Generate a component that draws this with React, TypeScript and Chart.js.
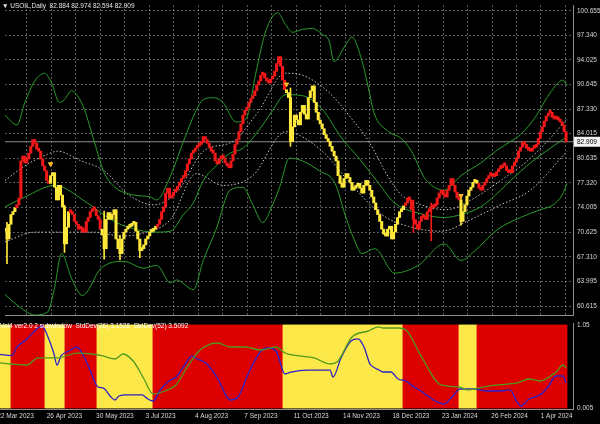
import { useEffect, useRef } from 'react';
import { Chart, registerables } from 'chart.js';
Chart.register(...registerables);

// ---- price data (daily closes, bar index = position) ----
const closes = [
  70.79, 69.73, 71.72, 73.04, 73.43, 73.96, 74.36, 75.28, 80.31, 80.97,
  80.04, 80.57, 81.36, 82.29, 83.21, 82.69, 81.89, 81.63, 80.57, 79.65,
  78.98, 77.66, 77.27, 78.32, 78.72, 76.74, 75.02, 77.0, 75.68, 74.09,
  69.07, 71.32, 73.43, 73.3, 73.04, 72.11, 71.72, 71.06, 71.32, 70.66,
  70.66, 72.11, 72.64, 73.43, 73.7, 73.7, 72.9, 72.38, 71.06, 70.26,
  68.41, 72.38, 73.3, 72.38, 73.04, 73.7, 69.73, 68.41, 67.75, 69.73,
  70.66, 71.06, 71.32, 71.45, 71.72, 71.98, 70.79, 69.73, 68.15, 68.41,
  68.94, 69.73, 70.13, 70.66, 70.79, 71.06, 71.32, 71.72, 72.38, 73.43,
  74.09, 75.95, 76.61, 75.28, 75.55, 76.08, 76.34, 76.87, 77.4, 77.93,
  78.19, 78.98, 79.91, 80.57, 81.36, 81.63, 82.02, 82.29, 82.55, 82.82,
  83.61, 83.21, 82.69, 82.16, 81.63, 81.36, 80.31, 79.91, 80.57, 80.97,
  80.7, 80.04, 79.65, 79.38, 80.31, 81.23, 82.55, 83.21, 84.27, 85.33,
  86.52, 87.18, 87.57, 88.24, 88.76, 89.16, 89.82, 90.61, 91.14, 91.93,
  92.2, 91.54, 91.14, 90.88, 91.41, 91.8, 92.46, 93.52, 94.45, 93.12,
  91.27, 89.95, 89.56, 88.9, 82.95, 84.93, 86.52, 85.86, 85.2, 86.91,
  87.84, 86.65, 85.99, 88.9, 89.82, 90.48, 88.24, 86.91, 85.86, 85.33,
  84.67, 83.87, 83.35, 82.95, 82.29, 81.63, 80.97, 80.31, 78.32, 77.27,
  76.74, 77.93, 78.59, 78.06, 77.4, 76.34, 76.61, 76.87, 77.27, 76.61,
  75.95, 77.0, 77.66, 77.0, 76.34, 75.42, 74.62, 73.7, 73.04, 72.11,
  71.06, 70.39, 70.13, 71.06, 71.45, 69.73, 70.66, 71.72, 72.64, 73.43,
  73.7, 74.23, 74.62, 75.28, 75.02, 73.7, 72.38, 71.72, 71.06, 72.11,
  72.77, 72.64, 72.38, 73.43, 73.7, 73.96, 74.09, 74.36, 75.28, 75.95,
  76.34, 75.68, 75.42, 76.34, 77.0, 77.93, 77.0, 76.08, 75.28, 75.02,
  72.11, 73.43, 74.36, 75.55, 76.34, 76.74, 77.4, 77.66, 77.27, 76.61,
  76.34, 77.0, 77.4, 77.93, 78.32, 78.59, 78.19, 78.32, 78.85, 79.25,
  79.38, 79.78, 79.65, 78.98, 78.72, 78.72, 79.65, 80.18, 80.7, 81.63,
  82.16, 82.82, 82.55, 82.02, 81.76, 81.63, 82.02, 82.16, 82.55, 83.35,
  84.27, 84.93, 85.72, 86.38, 86.78, 86.91, 86.25, 85.99, 86.12, 85.86,
  85.59, 85.2, 84.27, 82.909,
];

// visible long wicks: bar index, low, high
const wickIdx = [1, 30, 50, 58, 68, 144, 206, 215, 230];
const wickLow = [66.4, 67.9, 67.0, 66.9, 67.2, 82.3, 70.6, 69.5, 71.6];
const wickHigh = [72.0, 74.3, 73.5, 70.2, 69.6, 90.2, 75.0, 74.6, 75.4];

// regime (candle / histogram colour): start bar of each regime and its kind
const regimeStarts = [0, 6, 23, 33, 49, 77, 142, 202, 230, 239];
const regimeKinds = ['Y', 'R', 'Y', 'R', 'Y', 'R', 'Y', 'R', 'Y', 'R'];

// signal arrows
const arrowIdx = [23, 142, 230];
const arrowPrice = [79.9, 90.7, 75.6];

// Bollinger-style envelope lines (bar index, price)
const upX = [0, 6, 10, 15, 20, 23.5, 27.5, 30, 33.5, 36.5, 40, 45, 50, 53.5, 57.5, 65, 73.5, 76.5, 82.5, 90, 96, 100, 105, 110, 116.5, 121.5, 126.5, 131.5, 137.5, 141.5, 145, 150, 155, 160, 163.5, 166, 171.5, 175, 180, 183.5, 186, 193.5, 200, 205, 211.5, 217.5, 221.5, 230, 240, 247.5, 255, 260, 267.5, 275, 281.5, 283.5];
const upV = [86.51, 85.19, 88.23, 91.14, 92.2, 90.88, 88.23, 88.63, 89.82, 89.16, 87.31, 82.95, 78.72, 77.27, 76.34, 75.68, 75.41, 75.02, 77.66, 82.95, 86.91, 88.63, 88.89, 88.23, 85.59, 85.99, 92.2, 97.88, 100.39, 98.8, 97.75, 98.14, 98.28, 97.48, 96.56, 93.78, 95.9, 97.09, 93.92, 89.95, 86.91, 84.27, 83.34, 81.63, 78.06, 76.6, 76.34, 78.32, 80.04, 81.63, 82.95, 83.87, 86.25, 89.55, 91.27, 90.48];

const midX = [0, 10, 25, 41.5, 55, 70, 76.5, 83.5, 90, 95, 100, 106.5, 113.5, 120, 130, 135, 141.5, 150, 160, 170, 178.5, 188.5, 196.5, 211.5, 221.5, 230, 240, 250, 255, 265, 275, 283.5];
const midV = [74.09, 75.41, 77.0, 74.62, 72.11, 70.79, 70.66, 70.79, 73.04, 74.62, 77.66, 79.64, 81.36, 82.02, 85.19, 87.17, 89.29, 89.16, 87.31, 83.34, 80.7, 77.26, 74.62, 73.04, 72.64, 73.04, 74.09, 76.34, 77.66, 80.04, 82.02, 83.61];

const lowX = [0, 7.5, 15, 21.5, 25, 28.5, 33.5, 39, 48.5, 60, 70, 76.5, 83.5, 86.5, 95, 100, 106.5, 113.5, 120, 125, 130, 135, 138.5, 143.5, 150, 158.5, 166.5, 171.5, 176, 180, 186.5, 196.5, 208.5, 221.5, 230, 236.5, 248.5, 260, 270, 276.5, 281, 283.5];
const lowV = [62.2, 60.48, 59.42, 59.82, 63.13, 67.75, 64.45, 62.07, 65.77, 66.69, 65.77, 66.16, 63.78, 64.18, 62.86, 66.82, 71.05, 76.34, 76.74, 74.36, 71.98, 74.36, 76.74, 80.7, 80.31, 78.98, 77.26, 73.04, 69.73, 67.75, 68.41, 65.11, 66.16, 69.07, 66.82, 68.01, 71.05, 72.64, 73.7, 74.36, 75.68, 77.26];

const dotUpX = [0, 10, 21.5, 26.5, 38.5, 50, 62.5, 75, 87.5, 100, 115, 127.5, 141.5, 150, 163.5, 175, 183.5, 193.5, 200, 210, 222.5, 235, 250, 263.5, 273.5, 283.5];
const dotUpV = [77.66, 79.64, 81.23, 81.63, 80.31, 78.98, 75.68, 74.36, 76.34, 81.63, 82.95, 86.91, 92.2, 91.93, 89.56, 85.99, 82.95, 78.06, 75.68, 74.36, 73.7, 75.02, 77.66, 80.31, 82.95, 85.99];

const dotLoX = [0, 15, 45, 58.5, 71.5, 83.5, 96.5, 110, 125, 141.5, 160, 175, 190, 205, 220, 235, 250, 265, 283.5];
const dotLoV = [69.34, 70.66, 70.66, 70.13, 70.66, 72.38, 78.59, 77.0, 78.32, 84.27, 81.63, 77.0, 73.04, 71.32, 70.79, 72.38, 74.36, 76.34, 81.63];

const bid = 82.909;
const priceTicks = [100.655, 97.34, 94.025, 90.645, 87.33, 84.015, 80.635, 77.32, 74.005, 70.625, 67.31, 63.995, 60.615];

// sub-window lines (bar index, value)
const blueX = [0, 5.75, 8.5, 13.5, 19, 21, 24, 27, 28.5, 30.5, 34.5, 38.5, 41, 45, 49, 51.5, 55.5, 57.5, 59.5, 63, 71, 74, 76.5, 80.5, 84.5, 88, 92, 96, 97.5, 103.5, 109, 115, 119, 124.5, 130.5, 134, 138, 142.5, 145.5, 153.5, 165, 166.5, 170.5, 175.5, 179, 182, 185, 187.5, 189.5, 191.5, 195.5, 199, 203, 207, 210.5, 214.5, 218.5, 222, 226, 230, 237.5, 243.5, 249, 255, 258.5, 260.5, 264.5, 270, 274, 278, 281.5, 283];
const blueV = [0.679, 0.665, 0.773, 0.874, 1.012, 1.037, 0.899, 0.685, 0.546, 0.66, 0.723, 0.773, 0.697, 0.483, 0.269, 0.257, 0.144, 0.106, 0.156, 0.169, 0.169, 0.118, 0.093, 0.244, 0.345, 0.395, 0.534, 0.66, 0.635, 0.559, 0.37, 0.106, 0.144, 0.458, 0.723, 0.76, 0.723, 0.433, 0.458, 0.483, 0.483, 0.395, 0.635, 0.849, 0.874, 0.773, 0.559, 0.509, 0.483, 0.458, 0.458, 0.37, 0.345, 0.269, 0.219, 0.144, 0.081, 0.055, 0.144, 0.244, 0.244, 0.219, 0.219, 0.232, 0.081, 0.03, 0.118, 0.169, 0.269, 0.408, 0.408, 0.32];
const greenX = [0, 5.75, 13.5, 19, 28.5, 38.5, 46, 51.5, 57.5, 61.5, 67, 72, 76.5, 82.5, 88, 94, 99.5, 105.5, 109, 115, 122.5, 130.5, 138, 142.5, 149.5, 157, 165, 168.5, 176, 184, 189.5, 191.5, 199, 203, 210.5, 220.5, 230, 233.5, 241.5, 249, 258.5, 264.5, 270, 278, 281.5, 283];
const greenV = [0.572, 0.559, 0.546, 0.635, 0.635, 0.697, 0.685, 0.66, 0.622, 0.685, 0.584, 0.37, 0.181, 0.219, 0.295, 0.534, 0.723, 0.811, 0.823, 0.773, 0.773, 0.735, 0.773, 0.697, 0.66, 0.635, 0.559, 0.584, 0.899, 0.974, 1.025, 1.012, 1.012, 0.987, 0.66, 0.295, 0.269, 0.232, 0.269, 0.295, 0.32, 0.37, 0.345, 0.458, 0.546, 0.509];

const dateLabels = ['22 Mar 2023', '26 Apr 2023', '30 May 2023', '3 Jul 2023', '4 Aug 2023', '7 Sep 2023', '11 Oct 2023', '14 Nov 2023', '18 Dec 2023', '23 Jan 2024', '26 Feb 2024', '1 Apr 2024'];
const dateIdx = [-1.35, 23.35, 48.05, 72.75, 97.45, 122.15, 146.85, 171.55, 196.25, 220.95, 245.65, 270.35];

const CANDLE_RED = '#f01818';
const CANDLE_YELLOW = '#ffe83c';
const BAND_RED = '#dc0000';
const BAND_YELLOW = '#fde84a';
const BB_GREEN = '#2a9c2a';
const DOT = '#c4c4c4';

function regimeAt(i: number) {
  let k = 0;
  for (let j = 0; j < regimeStarts.length; j++) if (i >= regimeStarts[j]) k = j;
  return regimeKinds[k];
}
function pts(xs: number[], vs: number[]) {
  return xs.map((x, k) => ({ x, y: vs[k] }));
}

export default function App() {
  const mainRef = useRef<HTMLCanvasElement>(null);
  const subRef = useRef<HTMLCanvasElement>(null);

  useEffect(() => {
    document.body.style.margin = '0';
    document.body.style.background = '#000';
    const idx = closes.map((_, i) => i);
    const opens = closes.map((c, i) => (i === 0 ? c : closes[i - 1]));
    const kinds = idx.map(regimeAt);
    const colorOf = (i: number) => (kinds[i] === 'R' ? CANDLE_RED : CANDLE_YELLOW);
    const candleColors = idx.map(colorOf);
    const bandColors = kinds.map((k) => (k === 'R' ? BAND_RED : BAND_YELLOW));
    const font = { family: 'Liberation Sans', size: 6.5 };
    const gridColor = 'rgba(150,150,150,0.6)';
    const xMax = 286.5;
    const gridIdx = Array.from({ length: 23 }, (_, k) => 11 + 12.35 * k);

    const lineDs = (data: any[], color: string, dash: number[] = []) => ({
      type: 'line' as const,
      data,
      borderColor: color,
      borderWidth: 1,
      borderDash: dash,
      pointRadius: 0,
      cubicInterpolationMode: 'monotone' as const,
      order: 5,
    });

    const priceTag = {
      id: 'priceTag',
      afterDraw(chart: any) {
        const { ctx, scales } = chart;
        const py = scales.y.getPixelForValue(bid);
        ctx.save();
        ctx.fillStyle = '#f2f2f2';
        ctx.fillRect(574, py - 5, 26, 10);
        ctx.fillStyle = '#000';
        ctx.font = '6.5px "Liberation Sans"';
        ctx.textBaseline = 'middle';
        ctx.fillText(bid.toFixed(3), 577, py + 0.5);
        ctx.restore();
      },
    };

    const main = new Chart(mainRef.current!, {
      type: 'bar',
      data: {
        datasets: [
          {
            type: 'bar',
            data: idx.map((i) => ({ x: i, y: [opens[i], closes[i]] })) as any,
            backgroundColor: candleColors,
            borderWidth: 0,
            barThickness: 2.4,
            minBarLength: 3,
            order: 0,
          } as any,
          {
            type: 'bar',
            data: wickIdx.map((x, k) => ({ x, y: [wickLow[k], wickHigh[k]] })) as any,
            backgroundColor: wickIdx.map(colorOf),
            borderWidth: 0,
            barThickness: 1,
            grouped: false,
            order: 1,
          } as any,
          lineDs(pts(upX, upV), BB_GREEN),
          lineDs(pts(midX, midV), BB_GREEN),
          lineDs(pts(lowX, lowV), BB_GREEN),
          lineDs(pts(dotUpX, dotUpV), DOT, [1.5, 2]),
          lineDs(pts(dotLoX, dotLoV), DOT, [1.5, 2]),
          { ...lineDs([{ x: 0, y: bid }, { x: xMax, y: bid }], '#8e8e8e'), order: 6 },
          {
            type: 'line',
            data: arrowIdx.map((x, k) => ({ x, y: arrowPrice[k] })),
            showLine: false,
            pointStyle: 'triangle',
            rotation: 180,
            pointRadius: 2.5,
            backgroundColor: '#ffb828',
            borderColor: '#ffb828',
            order: -1,
          } as any,
        ],
      },
      options: {
        responsive: false,
        animation: false,
        events: [],
        layout: { padding: { top: 0, left: 0, right: 0, bottom: 2 } },
        plugins: { legend: { display: false }, tooltip: { enabled: false } },
        scales: {
          x: {
            type: 'linear',
            min: 0,
            max: xMax,
            offset: false,
            afterBuildTicks: (s: any) => {
              s.ticks = gridIdx.map((v) => ({ value: v }));
            },
            ticks: { display: false },
            grid: { color: gridColor, drawTicks: false, offset: false },
            border: { display: true, color: '#909090', width: 1, dash: [2, 2] },
          },
          y: {
            type: 'linear',
            position: 'right',
            min: 59.426,
            max: 101.448,
            afterBuildTicks: (s: any) => {
              s.ticks = priceTicks.map((v) => ({ value: v }));
            },
            afterFit: (s: any) => {
              s.width = 27;
              s.paddingTop = 0;
              s.paddingBottom = 0;
            },
            ticks: { color: '#d8d8d8', font, padding: 4, callback: (v: any) => Number(v).toFixed(3) },
            grid: { color: gridColor, drawTicks: false },
            border: { display: true, color: '#909090', dash: [2, 2] },
          },
        },
      } as any,
      plugins: [priceTag],
    });

    const sub = new Chart(subRef.current!, {
      type: 'bar',
      data: {
        datasets: [
          {
            type: 'bar',
            data: idx.map((i) => ({ x: i, y: [0.005, 1.05] })) as any,
            backgroundColor: bandColors,
            borderWidth: 0,
            barThickness: 2.2,
            order: 10,
          } as any,
          { ...lineDs(pts(blueX, blueV), '#2a22c8'), borderWidth: 1.3, order: 1 },
          { ...lineDs(pts(greenX, greenV), '#4f9a1c'), borderWidth: 1.3, order: 0 },
        ],
      },
      options: {
        responsive: false,
        animation: false,
        events: [],
        layout: { padding: { top: 3, left: 0, right: 0, bottom: 0 } },
        plugins: { legend: { display: false }, tooltip: { enabled: false } },
        scales: {
          x: {
            type: 'linear',
            min: 0,
            max: xMax,
            offset: false,
            afterBuildTicks: (s: any) => {
              s.ticks = dateIdx.map((v) => ({ value: v }));
            },
            afterFit: (s: any) => {
              s.height = 15;
              s.paddingLeft = 0;
              s.paddingRight = 0;
            },
            ticks: {
              autoSkip: false,
              maxRotation: 0,
              minRotation: 0,
              align: 'start',
              color: '#d8d8d8',
              font,
              padding: 3,
              callback: (_v: any, i: number) => dateLabels[i],
            },
            grid: { display: false, drawTicks: false },
            border: { display: true, color: '#909090' },
          },
          y: {
            type: 'linear',
            position: 'right',
            min: -0.0076,
            max: 1.075,
            afterBuildTicks: (s: any) => {
              s.ticks = [{ value: 0.005 }, { value: 1.05 }];
            },
            afterFit: (s: any) => {
              s.width = 27;
              s.paddingTop = 0;
              s.paddingBottom = 0;
            },
            ticks: { color: '#d8d8d8', font, padding: 4, callback: (_v: any, i: number) => (i === 0 ? '0.005' : '1.05') },
            grid: { display: false, drawTicks: false },
            border: { display: true, color: '#909090' },
          },
        },
      } as any,
    });

    return () => {
      main.destroy();
      sub.destroy();
    };
  }, []);

  const txt = { position: 'absolute' as const, fontFamily: '"Liberation Sans", sans-serif', fontSize: 6.5, whiteSpace: 'pre' as const, lineHeight: '8px' };
  return (
    <div style={{ position: 'relative', width: 600, height: 424, background: '#000', overflow: 'hidden' }}>
      <canvas ref={mainRef} width={600} height={320} style={{ position: 'absolute', left: 0, top: 0 }} />
      <canvas ref={subRef} width={600} height={104} style={{ position: 'absolute', left: 0, top: 320 }} />
      <div style={{ ...txt, left: 2, top: 2, color: '#e6e6e6' }}>▼ USOIL,Daily  82.884 82.974 82.594 82.909</div>
      <div style={{ ...txt, left: 0, top: 322, color: '#ffffff' }}>Vol4 ver2.0 2 subwindow  StdDev(26) 3.1526  StdDev(52) 3.5092</div>
    </div>
  );
}
